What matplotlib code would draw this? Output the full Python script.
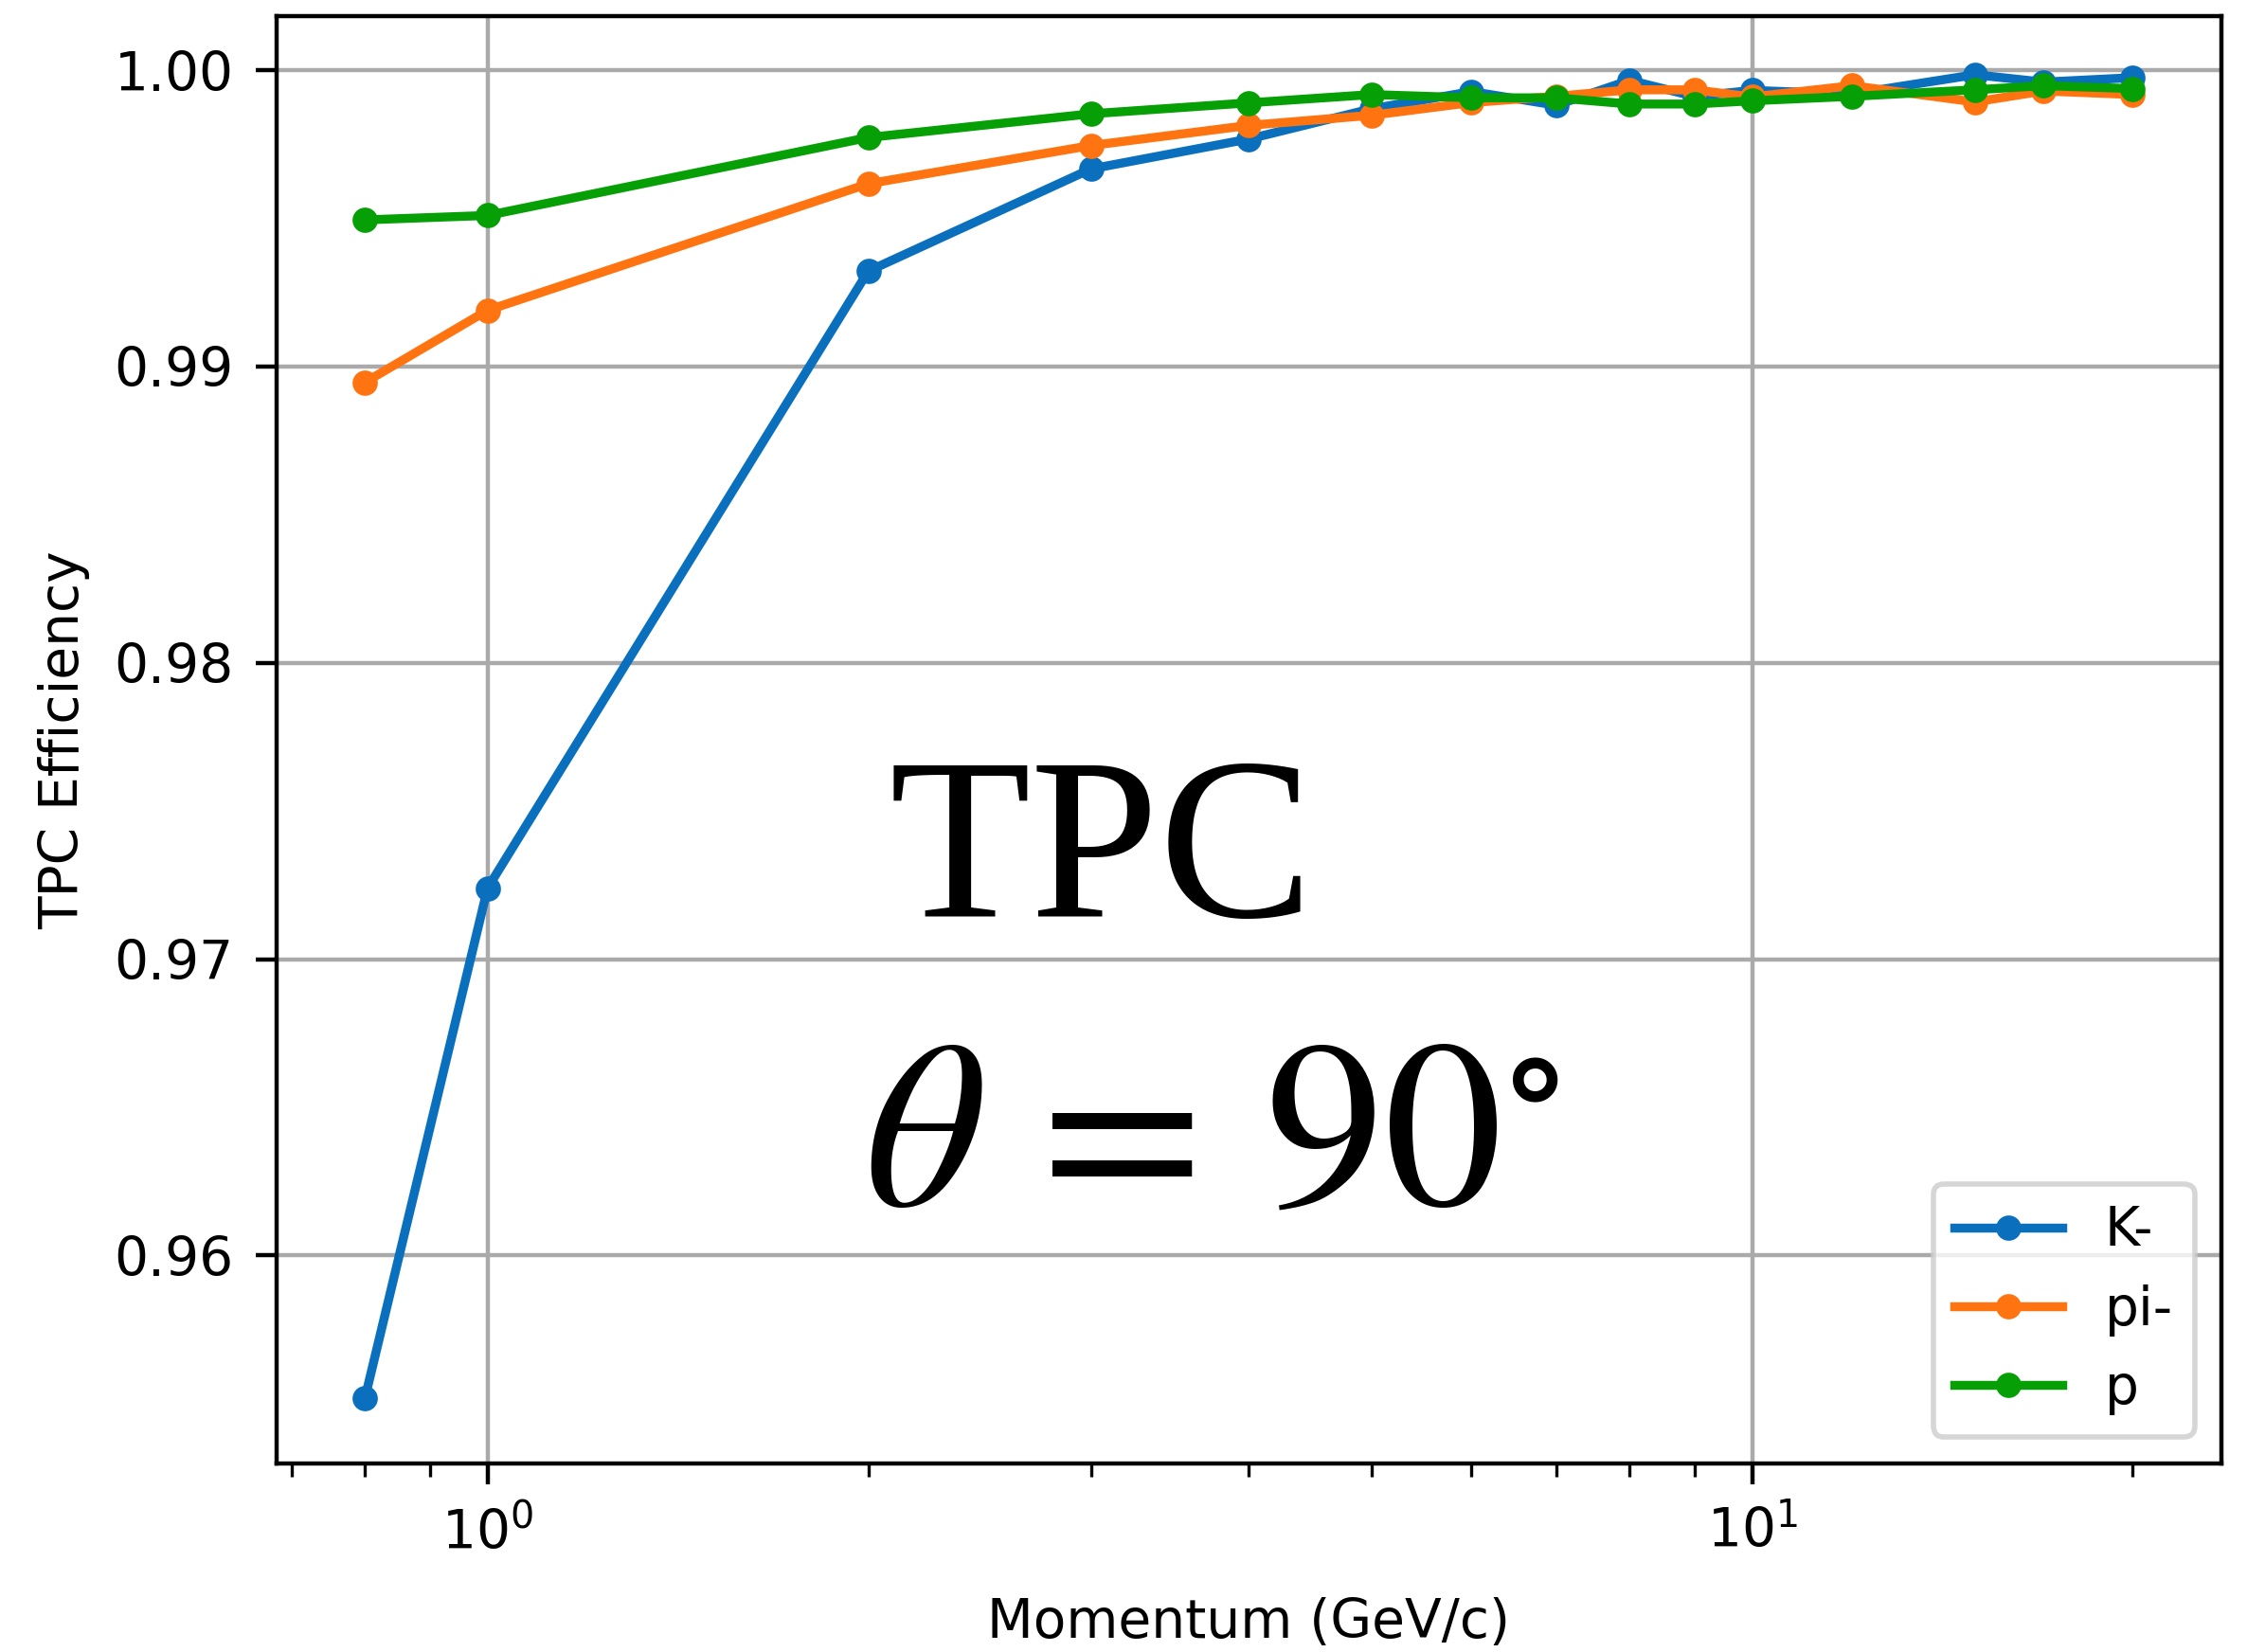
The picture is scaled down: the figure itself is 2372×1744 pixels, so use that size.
import matplotlib
matplotlib.use('Agg')
import matplotlib.pyplot as plt
import numpy as np

# momentum points (GeV/c)
momentum = [0.8, 1, 2, 3, 4, 5, 6, 7, 8, 9, 10, 12, 15, 17, 20]

# efficiencies
eff_kaon = [0.9552, 0.9724, 0.99322, 0.99667, 0.99768, 0.99870, 0.99928, 0.99882,
            0.99966, 0.99912, 0.99932, 0.99920, 0.99985, 0.99960, 0.99975]
eff_pion = [0.98947, 0.99190, 0.99617, 0.99746, 0.99814, 0.99848, 0.99891, 0.99912,
            0.99934, 0.99934, 0.99910, 0.99948, 0.99893, 0.99930, 0.99918]
eff_proton = [0.99495, 0.99510, 0.99773, 0.99853, 0.99890, 0.99918, 0.99907, 0.99907,
              0.99886, 0.99886, 0.99897, 0.99912, 0.99934, 0.99948, 0.99938]

labels = ['K-', 'pi-', 'p']
colors = ['#0a70bd', '#ff7410', '#06a006']

plt.rcParams['mathtext.fontset'] = 'stix'
plt.rcParams['font.size'] = 10.2

fig, ax = plt.subplots(figsize=(2372 / 400, 1744 / 400), dpi=400)
fig.subplots_adjust(left=0.1231, right=0.9886, top=0.9903, bottom=0.1141)

for eff, lab, col in zip([eff_kaon, eff_pion, eff_proton], labels, colors):
    ax.plot(momentum, eff, marker='o', markersize=3.8, linewidth=1.7, color=col, label=lab)

ax.set_xscale('log')
ax.set_xlim(0.681, 23.5)
ax.set_ylim(0.95298, 1.00183)
ax.set_yticks([0.96, 0.97, 0.98, 0.99, 1.00])
ax.tick_params(which='major', length=4, pad=4.2)
ax.tick_params(which='minor', length=2.6)
ax.grid(True, color='#aaaaaa')
ax.set_xlabel('Momentum (GeV/c)', labelpad=7)
ax.set_ylabel('TPC Efficiency', labelpad=4.5)
ax.legend(loc='lower right')

ax.text(0.315, 0.3776, 'TPC', transform=ax.transAxes, fontsize=44,
        family='Liberation Serif', ha='left', va='baseline')
ax.text(0.302, 0.1787, r'$\theta\,=\,90^{\circ}$', transform=ax.transAxes, fontsize=45,
        ha='left', va='baseline')

fig.savefig('out.png', dpi=400)
